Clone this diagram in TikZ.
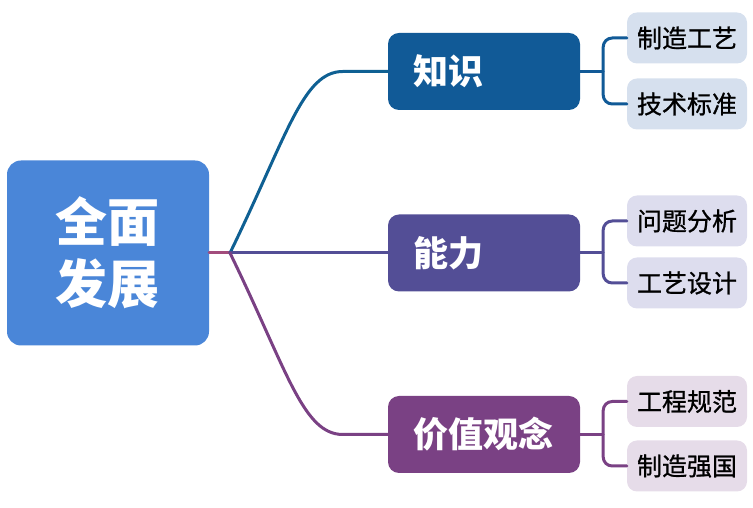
\documentclass[tikz,border=0pt]{standalone}
\usepackage{fontspec}
\newfontfamily\cjk{Noto Sans CJK SC}
\newfontfamily\cjkm[FakeBold=0.9]{Noto Sans CJK SC}
\definecolor{qmc}{HTML}{4A86D8}
\definecolor{zsc}{HTML}{115A97}
\definecolor{nlc}{HTML}{534E96}
\definecolor{jzc}{HTML}{7A4184}
\definecolor{zsl}{HTML}{D6E0EE}
\definecolor{nll}{HTML}{DDDDEE}
\definecolor{jzl}{HTML}{E6DCE9}
\definecolor{stub}{HTML}{A24C7C}
\begin{document}
\begin{tikzpicture}[x=1pt,y=1pt,line join=round,line cap=round,font=\cjk,
	root/.style={fill=qmc,text=white,rounded corners=14pt,minimum width=202pt,minimum height=185pt,align=center,font=\cjk\bfseries\fontsize{52}{62}\selectfont},
	topic/.style={text=white,rounded corners=11pt,inner xsep=25pt,text width=142pt,minimum height=77pt,align=left,font=\cjk\bfseries\fontsize{35}{40}\selectfont},
	leaf/.style={rounded corners=10pt,minimum width=120pt,minimum height=51pt,inner sep=0pt,font=\cjkm\fontsize{25}{30}\selectfont},
	link/.style={line width=3pt}]
	\useasboundingbox (0,0) rectangle (753,508);
	\node[root] (qm) at (108,255) {全面\\发展};
	\coordinate (jn) at (230,255);
	\node[topic,fill=zsc] (zs) at (484,436.5) {知识};
	\node[topic,fill=nlc] (nl) at (484,255) {能力};
	\node[topic,fill=jzc] (jz) at (484,73.5) {价值观念};
	\node[leaf,fill=zsl] (zs1) at (687,470) {制造工艺};
	\node[leaf,fill=zsl] (zs2) at (687,404) {技术标准};
	\node[leaf,fill=nll] (nl1) at (687,287) {问题分析};
	\node[leaf,fill=nll] (nl2) at (687,225) {工艺设计};
	\node[leaf,fill=jzl] (jz1) at (687,106.5) {工程规范};
	\node[leaf,fill=jzl] (jz2) at (687,42) {制造强国};
	% trunk
	\draw[link,stub] (qm.east) -- (jn);
	\draw[link,zsc!85!teal] (zs.west) -- ++(-45,0) .. controls +(-40,0) and +(64:130) .. (jn);
	\draw[link,nlc] (jn) -- (nl.west);
	\draw[link,jzc] (jz.west) -- ++(-45,0) .. controls +(-40,0) and +(-64:130) .. (jn);
	% forks
	\draw[link,zsc] (zs.east) -- ++(23,0) coordinate (fzs);
	\draw[link,zsc,rounded corners=9pt] (zs1.west) -| (fzs) |- (zs2.west);
	\draw[link,nlc] (nl.east) -- ++(23,0) coordinate (fnl);
	\draw[link,nlc,rounded corners=9pt] (nl1.west) -| (fnl) |- (nl2.west);
	\draw[link,jzc] (jz.east) -- ++(23,0) coordinate (fjz);
	\draw[link,jzc,rounded corners=9pt] (jz1.west) -| (fjz) |- (jz2.west);
\end{tikzpicture}
\end{document}
